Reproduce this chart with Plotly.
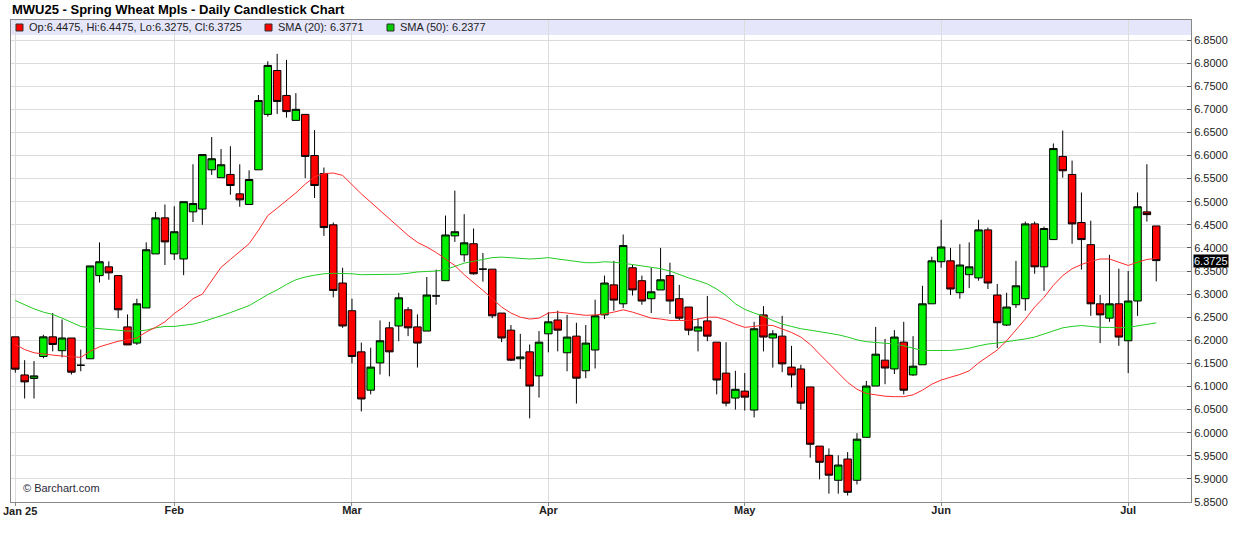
import plotly.graph_objects as go

# ---------------- data ----------------
open_ = [6.2075, 6.125, 6.1175, 6.165, 6.2075, 6.1775, 6.205, 6.146, 6.16, 6.34,
         6.359, 6.34, 6.229, 6.194, 6.27, 6.387, 6.465, 6.387, 6.376, 6.478,
         6.484, 6.569, 6.552, 6.559, 6.517, 6.494, 6.569, 6.689, 6.784, 6.73,
         6.676, 6.689, 6.60, 6.561, 6.45, 6.324, 6.264, 6.175, 6.092, 6.151,
         6.227, 6.231, 6.266, 6.229, 6.22, 6.296, 6.329, 6.426, 6.385, 6.409,
         6.354, 6.354, 6.259, 6.222, 6.16, 6.175, 6.123, 6.214, 6.244, 6.173,
         6.209, 6.134, 6.179, 6.255, 6.32, 6.279, 6.357, 6.329, 6.29, 6.309,
         6.34, 6.29, 6.272, 6.22, 6.242, 6.196, 6.129, 6.075, 6.09, 6.049,
         6.255, 6.205, 6.209, 6.142, 6.138, 6.099, 5.971, 5.951, 5.897, 5.943,
         5.897, 5.99, 6.101, 6.157, 6.138, 6.196, 6.125, 6.147, 6.279, 6.37,
         6.372, 6.303, 6.342, 6.335, 6.439, 6.298, 6.233, 6.277, 6.29, 6.452,
         6.359, 6.418, 6.598, 6.559, 6.455, 6.407, 6.279, 6.248, 6.279, 6.199,
         6.285, 6.478, 6.4475]
high = [6.2075, 6.157, 6.155, 6.212, 6.259, 6.245, 6.205, 6.18, 6.361, 6.412,
        6.371, 6.34, 6.256, 6.29, 6.412, 6.478, 6.494, 6.49, 6.50, 6.581,
        6.602, 6.64, 6.614, 6.62, 6.581, 6.568, 6.731, 6.804, 6.82, 6.807,
        6.735, 6.689, 6.655, 6.574, 6.455, 6.357, 6.29, 6.195, 6.184, 6.243,
        6.24, 6.303, 6.272, 6.256, 6.337, 6.353, 6.47, 6.524, 6.473, 6.442,
        6.389, 6.354, 6.259, 6.233, 6.214, 6.191, 6.22, 6.261, 6.264, 6.255,
        6.238, 6.233, 6.288, 6.34, 6.372, 6.429, 6.363, 6.34, 6.357, 6.40,
        6.368, 6.32, 6.272, 6.248, 6.296, 6.196, 6.196, 6.134, 6.129, 6.24,
        6.274, 6.222, 6.253, 6.188, 6.147, 6.099, 5.971, 5.966, 5.951, 5.958,
        5.999, 6.112, 6.229, 6.203, 6.222, 6.24, 6.209, 6.318, 6.381, 6.461,
        6.40, 6.408, 6.412, 6.461, 6.444, 6.322, 6.303, 6.372, 6.457, 6.457,
        6.446, 6.626, 6.654, 6.589, 6.52, 6.459, 6.298, 6.385, 6.355, 6.35,
        6.52, 6.581, 6.4475]
low = [6.13, 6.074, 6.074, 6.161, 6.176, 6.163, 6.126, 6.133, 6.16, 6.325,
       6.331, 6.248, 6.19, 6.19, 6.27, 6.387, 6.363, 6.374, 6.341, 6.456,
       6.45, 6.558, 6.552, 6.515, 6.489, 6.494, 6.569, 6.684, 6.69, 6.682,
       6.676, 6.551, 6.508, 6.426, 6.293, 6.227, 6.15, 6.046, 6.083, 6.126,
       6.122, 6.198, 6.209, 6.141, 6.22, 6.277, 6.329, 6.413, 6.37, 6.342,
       6.327, 6.248, 6.196, 6.155, 6.138, 6.031, 6.076, 6.174, 6.176, 6.133,
       6.063, 6.118, 6.139, 6.246, 6.264, 6.27, 6.297, 6.277, 6.259, 6.309,
       6.257, 6.244, 6.211, 6.176, 6.198, 6.083, 6.057, 6.05, 6.048, 6.033,
       6.176, 6.141, 6.131, 6.098, 6.05, 5.946, 5.899, 5.868, 5.868, 5.864,
       5.888, 5.99, 6.101, 6.105, 6.127, 6.083, 6.123, 6.147, 6.279, 6.357,
       6.298, 6.29, 6.313, 6.329, 6.311, 6.183, 6.231, 6.27, 6.264, 6.344,
       6.307, 6.418, 6.552, 6.409, 6.353, 6.253, 6.194, 6.24, 6.188, 6.129,
       6.253, 6.457, 6.3275]
close = [6.1375, 6.11, 6.123, 6.2075, 6.191, 6.205, 6.131, 6.146, 6.361, 6.37,
         6.346, 6.266, 6.19, 6.279, 6.396, 6.465, 6.413, 6.435, 6.50, 6.496,
         6.602, 6.593, 6.58, 6.535, 6.504, 6.548, 6.719, 6.795, 6.717, 6.695,
         6.70, 6.598, 6.535, 6.444, 6.308, 6.231, 6.165, 6.073, 6.142, 6.199,
         6.175, 6.292, 6.227, 6.194, 6.298, 6.296, 6.428, 6.435, 6.411, 6.344,
         6.354, 6.253, 6.205, 6.157, 6.164, 6.101, 6.196, 6.24, 6.222, 6.207,
         6.118, 6.194, 6.253, 6.324, 6.287, 6.405, 6.309, 6.285, 6.305, 6.331,
         6.285, 6.248, 6.222, 6.229, 6.209, 6.114, 6.064, 6.094, 6.077, 6.225,
         6.207, 6.214, 6.149, 6.125, 6.064, 5.975, 5.936, 5.908, 5.93, 5.871,
         5.986, 6.101, 6.17, 6.14, 6.207, 6.092, 6.144, 6.279, 6.372, 6.402,
         6.311, 6.363, 6.359, 6.439, 6.324, 6.238, 6.272, 6.318, 6.452, 6.359,
         6.442, 6.615, 6.567, 6.452, 6.418, 6.279, 6.255, 6.279, 6.207, 6.285,
         6.489, 6.472, 6.3725]
sma20 = [6.191, 6.180, 6.173, 6.170, 6.168, 6.166, 6.165, 6.163, 6.176, 6.186,
         6.192, 6.198, 6.201, 6.205, 6.218, 6.228, 6.240, 6.258, 6.272, 6.290,
         6.300, 6.329, 6.358, 6.375, 6.391, 6.409, 6.438, 6.470, 6.486, 6.502,
         6.519, 6.538, 6.554, 6.561, 6.562, 6.557, 6.536, 6.517, 6.499, 6.481,
         6.462, 6.445, 6.427, 6.412, 6.402, 6.390, 6.376, 6.362, 6.342, 6.326,
         6.308, 6.290, 6.272, 6.259, 6.250, 6.246, 6.248, 6.259, 6.261, 6.259,
         6.257, 6.254, 6.255, 6.257, 6.261, 6.266, 6.261, 6.254, 6.248, 6.246,
         6.243, 6.243, 6.243, 6.246, 6.250, 6.250, 6.244, 6.235, 6.228, 6.230,
         6.233, 6.232, 6.225, 6.217, 6.207, 6.191, 6.170, 6.150, 6.131, 6.109,
         6.094, 6.085, 6.082, 6.079, 6.078, 6.078, 6.082, 6.092, 6.105, 6.114,
         6.120, 6.126, 6.134, 6.151, 6.165, 6.179, 6.199, 6.222, 6.246, 6.272,
         6.293, 6.319, 6.340, 6.355, 6.364, 6.371, 6.376, 6.376, 6.369, 6.362,
         6.369, 6.375, 6.3771]
sma50 = [6.286, 6.277, 6.268, 6.261, 6.256, 6.248, 6.239, 6.230, 6.227, 6.225,
         6.223, 6.221, 6.220, 6.220, 6.222, 6.227, 6.230, 6.230, 6.232, 6.235,
         6.240, 6.246, 6.253, 6.260, 6.267, 6.275, 6.287, 6.299, 6.309, 6.321,
         6.331, 6.337, 6.341, 6.344, 6.345, 6.345, 6.344, 6.342, 6.342, 6.342,
         6.343, 6.343, 6.345, 6.348, 6.349, 6.350, 6.353, 6.360, 6.367, 6.371,
         6.375, 6.379, 6.380, 6.379, 6.378, 6.376, 6.377, 6.379, 6.376, 6.373,
         6.370, 6.368, 6.368, 6.370, 6.369, 6.367, 6.364, 6.361, 6.358, 6.355,
         6.350, 6.342, 6.335, 6.329, 6.322, 6.311, 6.297, 6.279, 6.267, 6.259,
         6.252, 6.243, 6.235, 6.230, 6.225, 6.222, 6.219, 6.216, 6.212, 6.207,
         6.201, 6.197, 6.195, 6.193, 6.192, 6.188, 6.183, 6.178, 6.178, 6.178,
         6.178, 6.180, 6.183, 6.188, 6.192, 6.194, 6.197, 6.199, 6.203, 6.207,
         6.214, 6.221, 6.227, 6.230, 6.232, 6.230, 6.228, 6.228, 6.227, 6.228,
         6.231, 6.234, 6.2377]
month_ticks = [0, 17, 36, 57, 78, 99, 119]
month_labels = ["Jan 25", "Feb", "Mar", "Apr", "May", "Jun", "Jul"]
price_ticks = [5.85 + 0.05 * k for k in range(21)]

title_text = "MWU25 - Spring Wheat Mpls - Daily Candlestick Chart"
ohlc_text = "Op:6.4475, Hi:6.4475, Lo:6.3275, Cl:6.3725"
sma20_text = "SMA (20): 6.3771"
sma50_text = "SMA (50): 6.2377"
last_price_text = "6.3725"
last_price = 6.3725

sessions = list(range(len(close)))

# ---------------- layout geometry (pixels) ----------------
W, H = 1236, 542
ML, MR, MT, MB = 11, 45, 20, 40
PW, PH = W - ML - MR, H - MT - MB
FONT = "Liberation Sans, Arial, sans-serif"
GREEN = "#00f000"
RED = "#ff0000"


def px_x(p):
    return (p - ML) / PW


def px_y(p):
    return 1 - (p - MT) / PH


fig = go.Figure()

fig.add_trace(go.Scatter(x=sessions, y=sma50, mode="lines",
                         line=dict(color="#22cc22", width=1), hoverinfo="skip",
                         showlegend=False))
fig.add_trace(go.Scatter(x=sessions, y=sma20, mode="lines",
                         line=dict(color="#ff2a2a", width=1), hoverinfo="skip",
                         showlegend=False))
fig.add_trace(go.Candlestick(
    x=sessions, open=open_, high=high, low=low, close=close,
    increasing=dict(line=dict(color="black", width=1), fillcolor=GREEN),
    decreasing=dict(line=dict(color="black", width=1), fillcolor=RED),
    whiskerwidth=0, showlegend=False))

# scale: index 0 at px 15.3, 9.352 px per session
x0 = -(15.3 - ML) / 9.352
x1 = x0 + PW / 9.352

shapes = [
    # legend strip
    dict(type="rect", xref="paper", yref="paper", x0=0, x1=1,
         y0=px_y(35), y1=1, fillcolor="#e6e6fa", line=dict(width=0), layer="below"),
]
for xa, col in [(16, RED), (265, RED), (387, "#00cc00")]:
    shapes.append(dict(type="rect", xref="paper", yref="paper",
                       x0=px_x(xa), x1=px_x(xa + 7), y0=px_y(31), y1=px_y(24),
                       fillcolor=col, line=dict(color="#333333", width=1)))

tick_labels = ["<b>" + t + "</b>" for t in month_labels]
first_label = tick_labels[0]
tick_labels[0] = ""

annotations = [
    dict(text="<b>" + title_text + "</b>", xref="paper", yref="paper",
         x=px_x(10), y=px_y(9), xanchor="left", yanchor="middle", showarrow=False,
         font=dict(family=FONT, size=13, color="#000000")),
    dict(text=ohlc_text, xref="paper", yref="paper", x=px_x(27), y=px_y(27.5),
         xanchor="left", yanchor="middle", showarrow=False,
         font=dict(family=FONT, size=11, color="#222222")),
    dict(text=sma20_text, xref="paper", yref="paper", x=px_x(276), y=px_y(27.5),
         xanchor="left", yanchor="middle", showarrow=False,
         font=dict(family=FONT, size=11, color="#222222")),
    dict(text=sma50_text, xref="paper", yref="paper", x=px_x(398), y=px_y(27.5),
         xanchor="left", yanchor="middle", showarrow=False,
         font=dict(family=FONT, size=11, color="#222222")),
    dict(text="© Barchart.com", xref="paper", yref="paper", x=px_x(21), y=px_y(487.5),
         xanchor="left", yanchor="middle", showarrow=False,
         font=dict(family=FONT, size=11, color="#2a2a3a")),
    dict(text=last_price_text, xref="paper", yref="y", x=px_x(1192.5), y=last_price,
         xanchor="left", yanchor="middle", showarrow=False, bgcolor="#000000",
         borderpad=0, font=dict(family=FONT, size=11, color="#e8f4ff")),
    # first month label, kept inside the page edge
    dict(text=first_label, xref="paper", yref="paper", x=px_x(0.5), y=px_y(511),
         xanchor="left", yanchor="middle", showarrow=False,
         font=dict(family=FONT, size=11, color="#222222")),
]

fig.update_layout(
    width=W, height=H,
    margin=dict(l=ML, r=MR, t=MT, b=MB, pad=0, autoexpand=False),
    paper_bgcolor="white", plot_bgcolor="white",
    font=dict(family=FONT, size=11, color="#222222"),
    boxgap=0.2, boxgroupgap=0,
    shapes=shapes, annotations=annotations,
    showlegend=False,
    xaxis=dict(range=[x0, x1], rangeslider=dict(visible=False),
               tickmode="array", tickvals=month_ticks, ticktext=tick_labels,
               tickfont=dict(family=FONT, size=11, color="#222222"),
               showgrid=True, gridcolor="#dcdcdc", gridwidth=1,
               ticks="outside", ticklen=3, tickcolor="#888888",
               ticklabelstandoff=-5,
               showline=True, linecolor="#888888", linewidth=1, mirror=True,
               zeroline=False, fixedrange=True, automargin=False,
               ticklabeloverflow="allow"),
    yaxis=dict(side="right", range=[5.85, 6.85 + 20 * 1.0 / 461.9],
               tickmode="array", tickvals=price_ticks,
               ticktext=["%.4f" % v for v in price_ticks],
               tickfont=dict(family=FONT, size=11, color="#222222"),
               showgrid=True, gridcolor="#dcdcdc", gridwidth=1,
               ticks="inside", ticklen=4, tickcolor="#555555",
               showline=True, linecolor="#888888", linewidth=1, mirror=True,
               zeroline=False, fixedrange=True, automargin=False,
               ticklabeloverflow="allow"),
)

fig.write_html("out.html", config={"staticPlot": True},
               post_script="document.body.style.margin='0';document.body.style.padding='0';")
